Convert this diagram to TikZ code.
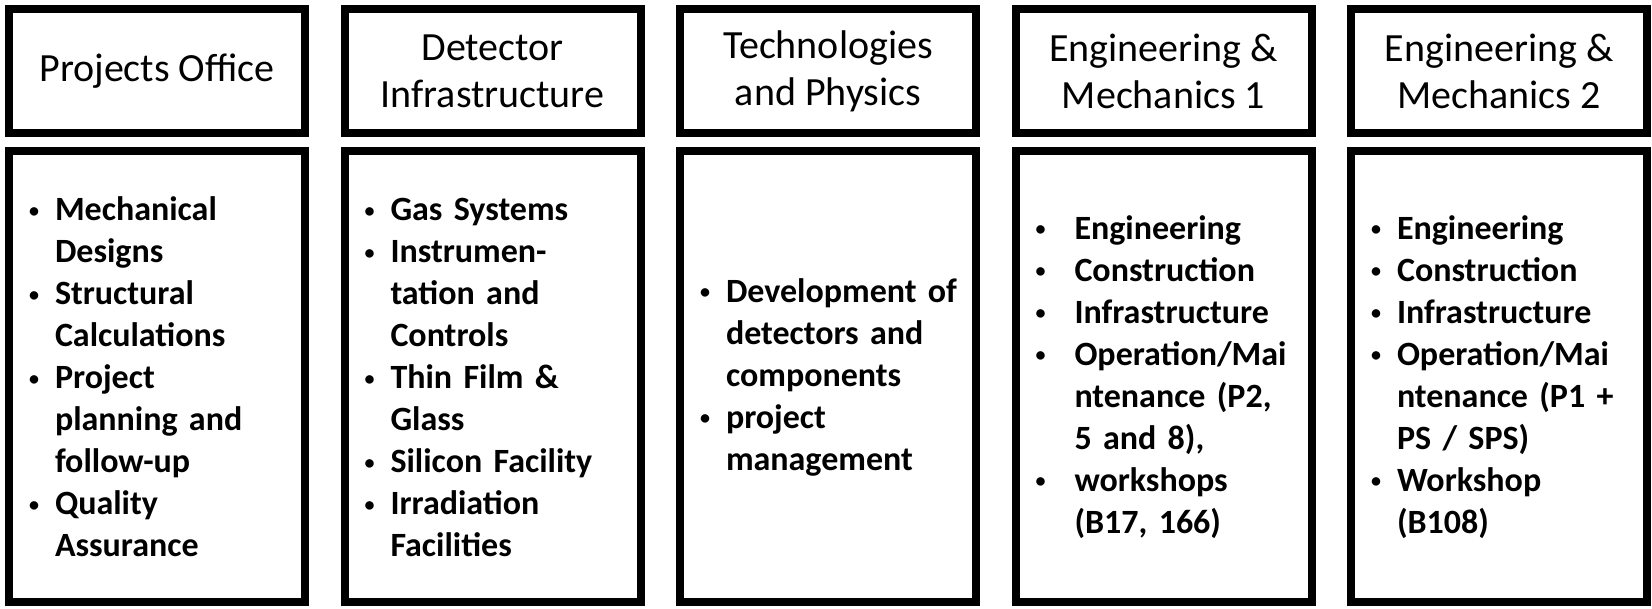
\documentclass[tikz,border=0pt]{standalone}
\usepackage{fontspec}
\setmainfont{Carlito}
\usetikzlibrary{positioning}
\tikzstyle{headbox} = [draw, line width=8pt, minimum width=296pt, minimum height=124pt, align=center, font=\fontsize{40}{47}\selectfont]
\tikzstyle{bodybox} = [draw, line width=8pt, minimum width=296pt, minimum height=451pt, text width=280pt, inner xsep=8pt, align=left, font=\fontsize{34}{42}\selectfont\bfseries]

% bullet list item: pad, small bullet, hanging text
\newlength{\bpad}\setlength{\bpad}{12pt}
\newlength{\bhang}\setlength{\bhang}{26pt}
\newcommand{\nl}{\hfil\break}
\newcommand{\bitem}[1]{\par\hangindent=\dimexpr\bpad+\bhang\relax\hangafter=1\noindent\hspace*{\bpad}%
  \makebox[\bhang][l]{\raisebox{3.5pt}{\fontsize{20}{20}\selectfont\textbullet}}#1}
% empty space under a list, lifts the text a little
\newcommand{\bend}{\par\nointerlineskip\vbox to 17pt{}}

\begin{document}
\begin{tikzpicture}[x=1pt,y=-1pt]
    \useasboundingbox (0,0) rectangle (1652,609);

    % headers
    \node [headbox] (po) at (157,71) {Projects Office};
    \node [headbox, right=31.5pt of po] (di) {Detector\\Infrastructure};
    \node [headbox, right=31.5pt of di] (tp) {Technologies\\and Physics};
    \node [headbox, right=31.5pt of tp] (em1) {Engineering \&\\Mechanics 1};
    \node [headbox, right=31.5pt of em1] (em2) {Engineering \&\\Mechanics 2};

    % task lists
    \node [bodybox, below=10pt of po] (pol) {%
      \bitem{Mechanical\nl Designs}
      \bitem{Structural\nl Calculations}
      \bitem{Project\nl planning and\nl follow-up}
      \bitem{Quality\nl Assurance}\bend};
    \node [bodybox, below=10pt of di] (dil) {%
      \bitem{Gas Systems}
      \bitem{Instrumen-\nl tation and\nl Controls}
      \bitem{Thin Film \&\nl Glass}
      \bitem{Silicon Facility}
      \bitem{Irradiation\nl Facilities}\bend};
    \node [bodybox, below=10pt of tp] (tpl) {%
      \bitem{Development of\nl detectors and\nl components}
      \bitem{project\nl management}\bend};
    \node [bodybox, below=10pt of em1] (em1l) {%
      \setlength{\bhang}{39pt}%
      \bitem{Engineering}
      \bitem{Construction}
      \bitem{Infrastructure}
      \bitem{Operation/Mai\nl ntenance (P2,\nl 5 and 8),}
      \bitem{workshops\nl (B17, 166)}\bend};
    \node [bodybox, below=10pt of em2] (em2l) {%
      \bitem{Engineering}
      \bitem{Construction}
      \bitem{Infrastructure}
      \bitem{Operation/Mai\nl ntenance (P1 +\nl PS / SPS)}
      \bitem{Workshop\nl (B108)}\bend};
  \end{tikzpicture}
\end{document}
